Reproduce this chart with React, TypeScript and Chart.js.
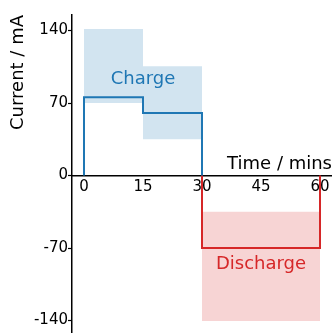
import React, { useEffect, useRef } from "react";
import { Chart, registerables } from "chart.js";

Chart.register(...registerables);

// ---- data ----
const chargeTime = [0, 0, 15, 15, 30, 30];
const chargeCurrent = [0, 75.5, 75.5, 60.5, 60.5, 0];
const dischargeTime = [30, 30, 60, 60];
const dischargeCurrent = [0, -70, -70, 0];

const bandStart = [0, 15, 30];
const bandEnd = [15, 30, 60];
const bandLow = [70, 35, -140.5];
const bandHigh = [141.5, 105.5, -35];
const bandKind = ["charge", "charge", "discharge"];

const xTicks = [0, 15, 30, 45, 60];
const yTicks = [-140, -70, 0, 70, 140];

const labelText = ["Charge", "Discharge"];
const labelX = [15, 45];
const labelY = [88.3, -90.6];
const labelKind = ["charge", "discharge"];

const BLUE = "#1f77b4";
const RED = "#d62728";
const BLUE_FILL = "rgba(31,119,180,0.2)";
const RED_FILL = "rgba(214,39,40,0.2)";
const FONT = "'DejaVu Sans', sans-serif";

const labelsPlugin = {
  id: "regionLabels",
  afterDatasetsDraw(chart: any) {
    const { ctx, scales } = chart;
    ctx.save();
    ctx.font = `18px ${FONT}`;
    ctx.textAlign = "center";
    ctx.textBaseline = "alphabetic";
    labelText.forEach((t, i) => {
      ctx.fillStyle = labelKind[i] === "charge" ? BLUE : RED;
      ctx.fillText(t, scales.x.getPixelForValue(labelX[i]), scales.y.getPixelForValue(labelY[i]));
    });
    ctx.restore();
  },
};

export default function App() {
  const ref = useRef<HTMLCanvasElement>(null);
  useEffect(() => {
    if (!ref.current) return;
    const bands = bandStart.map((s, i) => ({
      type: "line" as const,
      data: [
        { x: s, y: bandHigh[i] },
        { x: bandEnd[i], y: bandHigh[i] },
      ],
      borderWidth: 0,
      pointRadius: 0,
      backgroundColor: bandKind[i] === "charge" ? BLUE_FILL : RED_FILL,
      fill: { value: bandLow[i] },
      order: 2,
    }));
    const chart = new Chart(ref.current, {
      type: "line",
      data: {
        datasets: [
          {
            data: chargeTime.map((x, i) => ({ x, y: chargeCurrent[i] })),
            borderColor: BLUE,
            borderWidth: 2,
            pointRadius: 0,
            fill: false,
            borderJoinStyle: "miter",
            order: 0,
          },
          {
            data: dischargeTime.map((x, i) => ({ x, y: dischargeCurrent[i] })),
            borderColor: RED,
            borderWidth: 2,
            pointRadius: 0,
            fill: false,
            borderJoinStyle: "miter",
            order: 0,
          },
          ...bands,
        ] as any,
      },
      options: {
        animation: false,
        responsive: false,
        layout: { padding: { top: 15, left: 0, right: 0, bottom: 0 } },
        font: { family: FONT },
        plugins: { legend: { display: false }, tooltip: { enabled: false } },
        scales: {
          x: {
            type: "linear",
            min: -3.05,
            max: 63.05,
            position: { y: 0 } as any,
            grid: { drawOnChartArea: false, tickLength: 3, tickColor: "rgba(0,0,0,0)" },
            border: { color: "#000", width: 1.5 },
            ticks: { color: "#000", font: { family: FONT, size: 15 }, padding: 0, maxRotation: 0 },
            title: {
              display: true,
              text: "Time / mins",
              align: "end",
              color: "#000",
              font: { family: FONT, size: 18 },
              padding: { top: 0, bottom: 0 },
            },
            afterBuildTicks: (s: any) => {
              s.ticks = xTicks.map((v) => ({ value: v }));
            },
            afterFit: (s: any) => {
              s.paddingLeft = 0;
              s.paddingRight = 0;
              s.height = 0;
            },
          },
          y: {
            type: "linear",
            min: -152,
            max: 155,
            position: "left",
            grid: { drawOnChartArea: false, tickLength: 4, tickColor: "#000", tickWidth: 1.2 },
            border: { color: "#000", width: 1.5 },
            ticks: { color: "#000", font: { family: FONT, size: 15 }, padding: 0 },
            title: {
              display: true,
              text: "Current / mA",
              align: "end",
              color: "#000",
              font: { family: FONT, size: 18 },
              padding: { top: 8, bottom: 0 },
            },
            afterBuildTicks: (s: any) => {
              s.ticks = yTicks.map((v) => ({ value: v }));
            },
            afterFit: (s: any) => {
              s.width = 72;
              s.paddingTop = 0;
              s.paddingBottom = 0;
            },
          },
        },
      } as any,
      plugins: [labelsPlugin],
    });
    return () => chart.destroy();
  }, []);
  return (
    <canvas
      ref={ref}
      width={332}
      height={333}
      style={{ position: "fixed", left: 0, top: 0, display: "block", background: "#fff" }}
    />
  );
}
